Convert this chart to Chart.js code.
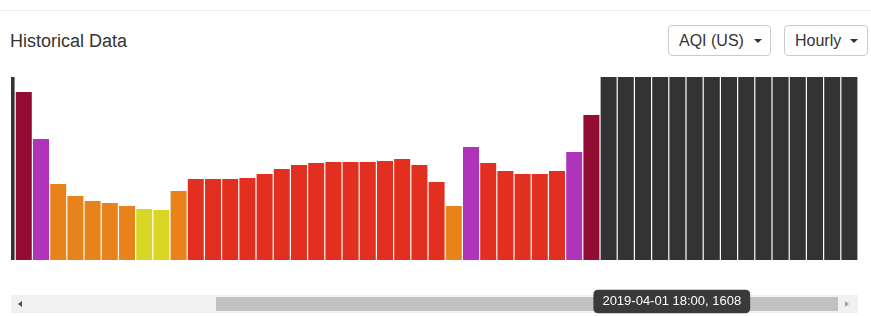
<!DOCTYPE html>
<html>
<head>
<meta charset="utf-8">
<script src="https://cdn.jsdelivr.net/npm/chart.js@4"></script>
<style>
  body { margin: 0; width: 871px; height: 316px; position: relative; overflow: hidden; background: #fff;
         font-family: 'Liberation Sans', Arial, Helvetica, sans-serif; color: #333; }
  .topline { position: absolute; left: 0; top: 10px; width: 871px; height: 1px; background: #eeeeee; }
  .title { position: absolute; left: 10px; top: 31px; font-size: 18px; line-height: 20px; }
  .btn { position: absolute; top: 25px; height: 31px; box-sizing: border-box; border: 1px solid #cccccc;
         border-radius: 4px; font-size: 16px; line-height: 29px; padding-left: 10px; }
  .btn .caret { position: absolute; top: 13px; width: 0; height: 0; border-top: 4px solid #333;
                border-left: 4px solid transparent; border-right: 4px solid transparent; }
  .scroll { position: absolute; left: 11px; top: 295px; width: 847px; height: 18px; background: #f1f1f1; z-index: 1; }
  .thumb { position: absolute; left: 205px; top: 2px; width: 622px; height: 14px; background: #c1c1c1; }
  .arrow-l { position: absolute; left: 7px; top: 6px; width: 0; height: 0; border-right: 4px solid #505050;
             border-top: 3.5px solid transparent; border-bottom: 3.5px solid transparent; }
  .arrow-r { position: absolute; left: 834px; top: 6px; width: 0; height: 0; border-left: 4px solid #a3a3a3;
             border-top: 3.5px solid transparent; border-bottom: 3.5px solid transparent; }
  .plot { position: absolute; left: 11px; top: 77px; width: 847px; height: 239px; overflow: hidden; z-index: 2; }
  .plot canvas { position: absolute; left: -13px; top: 0; }
</style>
</head>
<body>
<div class="topline"></div>
<div class="title">Historical Data</div>
<div class="btn" style="left:668px;width:103px;">AQI (US)<span class="caret" style="left:85px;"></span></div>
<div class="btn" style="left:784px;width:84px;">Hourly<span class="caret" style="left:65px;"></span></div>
<div class="scroll"><div class="thumb"></div><div class="arrow-l"></div><div class="arrow-r"></div></div>
<div class="plot"><canvas id="chart" width="860" height="239"></canvas></div>

<script>
const hours = [
  '2019-03-31 08:00', '2019-03-31 09:00', '2019-03-31 10:00', '2019-03-31 11:00', '2019-03-31 12:00',
  '2019-03-31 13:00', '2019-03-31 14:00', '2019-03-31 15:00', '2019-03-31 16:00', '2019-03-31 17:00',
  '2019-03-31 18:00', '2019-03-31 19:00', '2019-03-31 20:00', '2019-03-31 21:00', '2019-03-31 22:00',
  '2019-03-31 23:00', '2019-04-01 00:00', '2019-04-01 01:00', '2019-04-01 02:00', '2019-04-01 03:00',
  '2019-04-01 04:00', '2019-04-01 05:00', '2019-04-01 06:00', '2019-04-01 07:00', '2019-04-01 08:00',
  '2019-04-01 09:00', '2019-04-01 10:00', '2019-04-01 11:00', '2019-04-01 12:00', '2019-04-01 13:00',
  '2019-04-01 14:00', '2019-04-01 15:00', '2019-04-01 16:00', '2019-04-01 17:00', '2019-04-01 18:00',
  '2019-04-01 19:00', '2019-04-01 20:00', '2019-04-01 21:00', '2019-04-01 22:00', '2019-04-01 23:00',
  '2019-04-02 00:00', '2019-04-02 01:00', '2019-04-02 02:00', '2019-04-02 03:00', '2019-04-02 04:00',
  '2019-04-02 05:00', '2019-04-02 06:00', '2019-04-02 07:00', '2019-04-02 08:00', '2019-04-02 09:00'
];

// hourly readings, null = no data for that hour
const readings = [
  null, 1863, 1342, 843, 710, 654, 632, 599, 566, 555, 765,
  898, 898, 898, 909, 954, 1009, 1054, 1076, 1087, 1087, 1087, 1098, 1120, 1054, 865,
  599, 1253, 1076, 987, 954, 954, 987, 1198, 1608,
  null, null, null, null, null, null, null, null, null, null, null, null, null, null, null
];

// air quality level of each hour (0 good .. 5 hazardous)
const levels = [
  null, 5, 4, 2, 2, 2, 2, 2, 1, 1, 2,
  3, 3, 3, 3, 3, 3, 3, 3, 3, 3, 3, 3, 3, 3, 3,
  2, 4, 3, 3, 3, 3, 3, 4, 5,
  null, null, null, null, null, null, null, null, null, null, null, null, null, null, null
];

const levelColors = ['#5cb85c', '#d9d726', '#e8821a', '#e22f1f', '#b034ba', '#930c33'];
const noDataColor = '#333333';
const Y_MAX = 2030;
const hoveredHour = 34;

Chart.defaults.font.family = "'Liberation Sans', Arial, Helvetica, sans-serif";

// keep the tooltip under the plot, next to the bar
Chart.Tooltip.positioners.belowBar = function (items) {
  if (!items.length) return false;
  return {
    x: items[0].element.x,
    y: this.chart.chartArea.bottom + 41.5,
    xAlign: 'left',
    yAlign: 'center',
  };
};

const ctx = document.getElementById('chart').getContext('2d');
const chart = new Chart(ctx, {
  type: 'bar',
  data: {
    labels: hours,
    datasets: [
      {
        label: 'AQI (US)',
        data: readings,
        backgroundColor: levels.map(l => (l === null ? noDataColor : levelColors[l])),
      },
      {
        label: 'No data',
        data: readings.map(v => (v === null ? Y_MAX : null)),
        backgroundColor: noDataColor,
      },
    ],
  },
  options: {
    responsive: false,
    animation: false,
    devicePixelRatio: 1,
    layout: { padding: { top: 0, bottom: 56, left: 0, right: 0 } },
    datasets: {
      bar: { grouped: false, categoryPercentage: 1, barPercentage: 0.93, borderWidth: 0 },
    },
    scales: {
      x: { display: false, offset: true },
      y: { display: false, min: 0, max: Y_MAX },
    },
    plugins: {
      legend: { display: false },
      title: { display: false },
      tooltip: {
        position: 'belowBar',
        backgroundColor: '#3a3a3a',
        bodyColor: '#ffffff',
        bodyFont: { size: 13 },
        padding: { top: 4, bottom: 4, left: 9, right: 9 },
        cornerRadius: 5,
        caretSize: 0,
        caretPadding: 2,
        displayColors: false,
        callbacks: {
          title: () => [],
          label: item => item.label + ', ' + item.raw,
        },
      },
    },
  },
});

chart.tooltip.setActiveElements([{ datasetIndex: 0, index: hoveredHour }], { x: 0, y: 0 });
chart.update();
</script>
</body>
</html>
